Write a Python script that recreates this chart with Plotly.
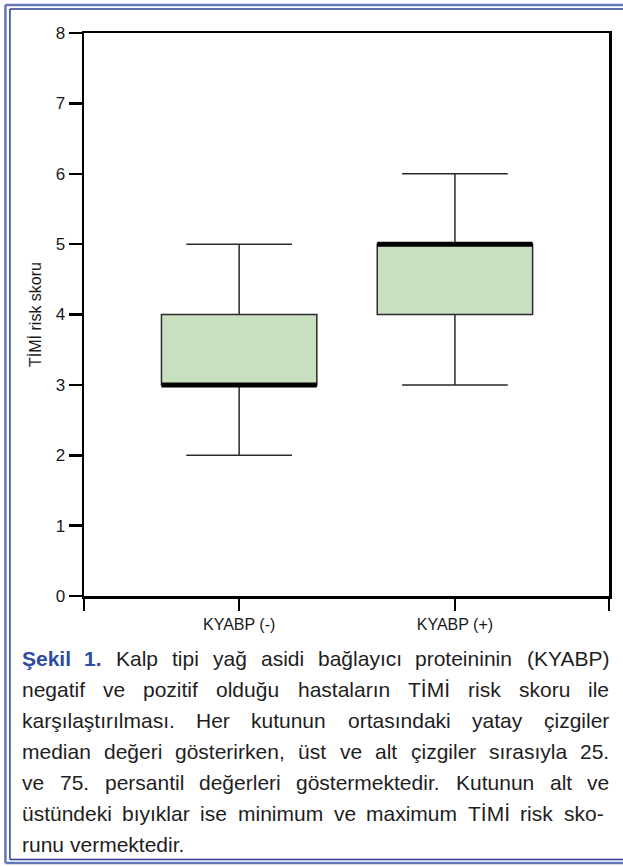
import plotly.graph_objects as go

# ---------------- data ----------------
categories = ["KYABP (-)", "KYABP (+)"]
minimum = [2, 3]
q1 = [3, 4]
median = [3, 5]
q3 = [4, 5]
maximum = [5, 6]
y_ticks = [0, 1, 2, 3, 4, 5, 6, 7, 8]
y_title = "TİMİ risk skoru"

caption_label = "Şekil 1."
caption_lines = [
    "Kalp tipi yağ asidi bağlayıcı proteininin (KYABP)",
    "negatif ve pozitif olduğu hastaların TİMİ risk skoru ile",
    "karşılaştırılması. Her kutunun ortasındaki yatay çizgiler",
    "median değeri gösterirken, üst ve alt çizgiler sırasıyla 25.",
    "ve 75. persantil değerleri göstermektedir. Kutunun alt ve",
    "üstündeki bıyıklar ise minimum ve maximum TİMİ risk sko-",
    "runu vermektedir.",
]

# ---------------- layout constants ----------------
W, H = 623, 866
ML, MR, MT, MB = 84, 11, 33, 270
PW = W - ML - MR
PH = H - MT - MB
FONT = "Liberation Sans, Arial, Helvetica, sans-serif"


def px(x):
    return (x - ML) / PW


def py(y):
    return (H - MB - y) / PH


# Arial / Liberation Sans advance widths (per 1000 em)
REG = {' ': 278, 'a': 556, 'b': 556, 'c': 500, 'd': 556, 'e': 556, 'f': 278, 'g': 556,
       'h': 556, 'i': 222, 'j': 222, 'k': 500, 'l': 222, 'm': 833, 'n': 556, 'o': 556,
       'p': 556, 'q': 556, 'r': 333, 's': 500, 't': 278, 'u': 556, 'v': 500, 'w': 722,
       'x': 500, 'y': 500, 'z': 500, 'A': 667, 'B': 667, 'K': 667, 'P': 667, 'T': 611,
       'İ': 278, 'I': 278, 'M': 833, 'Y': 667, 'H': 722, 'ç': 500, 'ğ': 556, 'ı': 278,
       'ö': 556, 'ş': 500, 'ü': 556, '.': 278, ',': 278, '-': 333, '(': 333, ')': 333,
       '+': 584}
for d in "0123456789":
    REG[d] = 556
BOLD = {'Ş': 667, 'e': 556, 'k': 556, 'i': 278, 'l': 278, '1': 556, '.': 278, ' ': 278}


def tw(s, fs, bold=False):
    tab = BOLD if bold else REG
    return sum(tab.get(c, 556) for c in s) * fs / 1000.0


fig = go.Figure()
xs = list(range(len(categories)))

fig.add_trace(go.Box(
    x=xs, q1=q1, median=median, q3=q3, lowerfence=minimum, upperfence=maximum,
    width=0.72, whiskerwidth=0.68, fillcolor="#c8dfc0",
    line=dict(color="#2a2a2a", width=1.5), boxpoints=False,
    hoverinfo="skip", showlegend=False))
# thick median bars
fig.add_trace(go.Box(
    x=xs, q1=median, median=median, q3=median, lowerfence=median, upperfence=median,
    width=0.72, whiskerwidth=0, fillcolor="black",
    line=dict(color="black", width=5), boxpoints=False,
    hoverinfo="skip", showlegend=False))

x_lo, x_hi = -0.719, 1.714

annotations = []
FS = 21
LEFT, RIGHT = 21.5, 612.5
BASE0, PITCH = 666, 31
for i, line in enumerate(caption_lines):
    words = [(w, False) for w in line.split(" ")]
    if i == 0:
        words = [(w, True) for w in caption_label.split(" ")] + words
    widths = [tw(w, FS, b) for w, b in words]
    right = RIGHT if i < 5 else 606.5
    last = i == len(caption_lines) - 1
    if last:
        gap = tw(" ", FS)
    else:
        gap = (right - LEFT - sum(widths)) / (len(words) - 1)
    x = LEFT
    ycen = BASE0 + i * PITCH - 0.36 * FS
    for j, ((w, b), wd) in enumerate(zip(words, widths)):
        if j == 0:
            xa, xanc = x, "left"
        elif j == len(words) - 1 and not last:
            xa, xanc = right, "right"
        else:
            xa, xanc = x + wd / 2, "center"
        txt = f"<b>{w}</b>" if b else w
        annotations.append(dict(
            x=px(xa), y=py(ycen), xref="paper", yref="paper", xanchor=xanc,
            yanchor="middle", text=txt, showarrow=False, borderpad=0, borderwidth=0,
            font=dict(family=FONT, size=FS, color="#2d4c9e" if b else "#1e1e1e")))
        x += wd + gap

# frame (double blue line)
shapes = []
def line(x0, y0, x1, y1, color, width):
    shapes.append(dict(type="line", xref="paper", yref="paper",
                       x0=px(x0), y0=py(y0), x1=px(x1), y1=py(y1),
                       line=dict(color=color, width=width)))

OUT, INN = "#6475b8", "#2a3c92"
line(5, 5, 640, 5, OUT, 2.5)
line(5, 5, 5, 863, OUT, 2.5)
line(5, 863, 640, 863, OUT, 2.5)
line(9.5, 9, 640, 9, INN, 1.5)
line(9.5, 9, 9.5, 859.5, INN, 1.5)
line(9.5, 859.5, 640, 859.5, INN, 1.5)

fig.update_layout(
    width=W, height=H, autosize=False,
    margin=dict(l=ML, r=MR, t=MT, b=MB),
    paper_bgcolor="white", plot_bgcolor="white",
    font=dict(family=FONT, size=16, color="#1a1a1a"),
    showlegend=False,
    annotations=annotations, shapes=shapes,
    xaxis=dict(range=[x_lo, x_hi], tickmode="array",
               tickvals=[x_lo] + xs + [x_hi], ticktext=[""] + categories + [""],
               ticks="outside", ticklen=12, tickwidth=2.5, tickcolor="black",
               showline=True, linewidth=2.5, linecolor="black", mirror=True,
               showgrid=False, zeroline=False, tickfont=dict(size=16)),
    yaxis=dict(range=[0, 8], tickmode="array", tickvals=y_ticks,
               ticks="outside", ticklen=13, tickwidth=2.5, tickcolor="black",
               showline=True, linewidth=2.5, linecolor="black", mirror=True,
               showgrid=False, zeroline=False, tickfont=dict(size=17),
               title=dict(text=y_title, font=dict(size=16), standoff=10)),
)

fig.write_html("out.html",
               config={"displayModeBar": False, "staticPlot": True},
               post_script="document.body.style.margin='0px';document.body.style.overflow='hidden';")
